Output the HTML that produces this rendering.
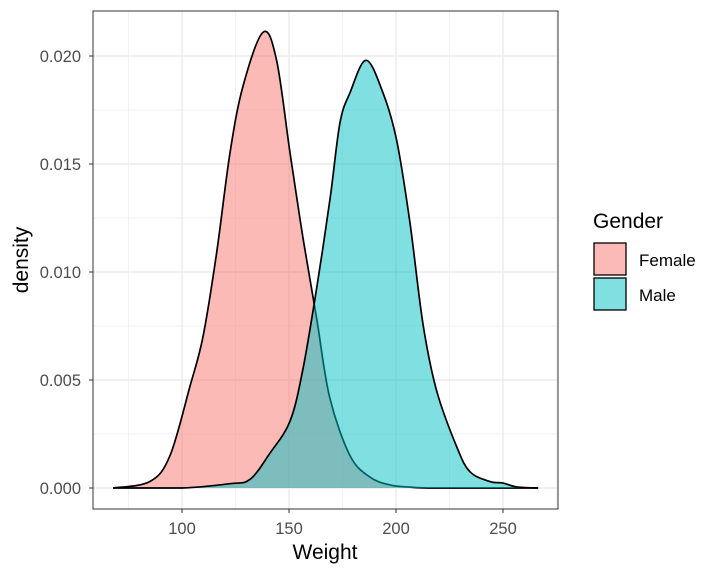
<!DOCTYPE html>
<html><head><meta charset="utf-8"><style>
body{margin:0;background:#fff;font-family:"Liberation Sans",sans-serif}
</style></head><body>
<svg id="chart" width="720" height="576" xmlns="http://www.w3.org/2000/svg" font-family="Liberation Sans, sans-serif">
<rect x="0" y="0" width="720" height="576" fill="#fff"/>
<g id="grid"></g>
<g id="areas"></g>
<rect x="93" y="11" width="465" height="498" fill="none" stroke="#333" stroke-width="1"/>
<g id="axes"></g>
<text x="325" y="559" text-anchor="middle" font-size="21" fill="#000">Weight</text>
<text transform="translate(28,260) rotate(-90)" text-anchor="middle" font-size="21" fill="#000">density</text>
<g>
<text x="593" y="228" font-size="21" fill="#000">Gender</text>
<g>
<rect x="594" y="243" width="32" height="32" fill="#F8766D" fill-opacity="0.5" stroke="#000" stroke-width="1.3"/>
<text x="639" y="266" font-size="17" fill="#000">Female</text></g>
<g>
<rect x="594" y="278" width="32" height="32" fill="#00BFC4" fill-opacity="0.5" stroke="#000" stroke-width="1.3"/>
<text x="639" y="301" font-size="17" fill="#000">Male</text></g>
</g>
</svg>
<script>
const xTicks=[100,150,200,250];
const yTicks=[0,0.005,0.010,0.015,0.020];
const yTickLabels=["0.000","0.005","0.010","0.015","0.020"];
const femaleX=[67.8,85,94.4,103.7,109.8,116.2,122.4,128.5,137.9,144.2,150.5,156.5,163,169,178.5,187.9,197.2,206.5,215,240,266.4];
const femaleY=[0,0.0003,0.0015,0.0047,0.0070,0.0109,0.0155,0.0186,0.0211,0.0198,0.0155,0.0116,0.0078,0.0042,0.0015,0.0005,0.00014,0.00004,0,0,0];
const maleX=[67.8,100,122.4,131.8,141,150.5,156.5,163,169.2,173.8,178.5,186,193.9,200.3,206.5,212.6,219,228.4,234.6,243.9,250,256.4,266.4];
const maleY=[0,0,0.0002,0.0004,0.0016,0.0031,0.0055,0.0093,0.0134,0.0169,0.0183,0.0198,0.0183,0.0161,0.0123,0.0076,0.0045,0.0019,0.00075,0.0003,0.00023,0.00005,0];
const sx=v=>182+(v-100)*2.14;
const sy=d=>488-d*21600;
const NS="http://www.w3.org/2000/svg";
function mk(t,a,p){const e=document.createElementNS(NS,t);for(const k in a)e.setAttribute(k,a[k]);p.appendChild(e);return e;}
const grid=document.getElementById('grid'),axes=document.getElementById('axes'),areas=document.getElementById('areas');
for(let i=0;i<xTicks.length-1;i++){const g=mk('line',{x1:sx((xTicks[i]+xTicks[i+1])/2),x2:sx((xTicks[i]+xTicks[i+1])/2),y1:11,y2:509,stroke:'#f2f2f2','stroke-width':1},grid);}
[75,275].forEach(v=>{const g=mk('line',{x1:sx(v),x2:sx(v),y1:11,y2:509,stroke:'#f2f2f2','stroke-width':1},grid);});
for(let i=0;i<yTicks.length-1;i++){const g=mk('line',{x1:93,x2:558,y1:sy((yTicks[i]+yTicks[i+1])/2),y2:sy((yTicks[i]+yTicks[i+1])/2),stroke:'#f2f2f2','stroke-width':1},grid);}
xTicks.forEach(v=>{const g=mk('line',{x1:sx(v),x2:sx(v),y1:11,y2:509,stroke:'#ebebeb','stroke-width':1.4},grid);
const t=mk('line',{x1:sx(v),x2:sx(v),y1:509,y2:513,stroke:'#333','stroke-width':1},axes);
const l=mk('text',{x:sx(v),y:534,'text-anchor':'middle','font-size':16.5,fill:'#4d4d4d'},axes);l.textContent=v;});
yTicks.forEach((v,i)=>{const g=mk('line',{x1:93,x2:558,y1:sy(v),y2:sy(v),stroke:'#ebebeb','stroke-width':1.4},grid);
const t=mk('line',{x1:89,x2:93,y1:sy(v),y2:sy(v),stroke:'#333','stroke-width':1},axes);
const l=mk('text',{x:81,y:sy(v)+6,'text-anchor':'end','font-size':16.5,fill:'#4d4d4d'},axes);l.textContent=yTickLabels[i];});
function smooth(xs,ys){const p=xs.map((x,i)=>[sx(x),sy(ys[i])]);let d=`M${p[0][0]},${p[0][1]}`;
for(let i=0;i<p.length-1;i++){const p0=p[i-1]||p[i],p1=p[i],p2=p[i+1],p3=p[i+2]||p2;
const c1=[p1[0]+(p2[0]-p0[0])/6,p1[1]+(p2[1]-p0[1])/6],c2=[p2[0]-(p3[0]-p1[0])/6,p2[1]-(p3[1]-p1[1])/6];
d+=`C${c1[0]},${Math.min(488,c1[1])} ${c2[0]},${Math.min(488,c2[1])} ${p2[0]},${p2[1]}`;}return d;}
function area(xs,ys,color,name){const d=smooth(xs,ys);
const f=mk('path',{d:d+`L${sx(xs[xs.length-1])},488L${sx(xs[0])},488Z`,fill:color,'fill-opacity':0.5,stroke:'none'},areas);
const l=mk('path',{d:d,fill:'none',stroke:'#000','stroke-width':1.7},areas);}
area(femaleX,femaleY,'#F8766D','female-density');
area(maleX,maleY,'#00BFC4','male-density');
</script>
</body></html>
